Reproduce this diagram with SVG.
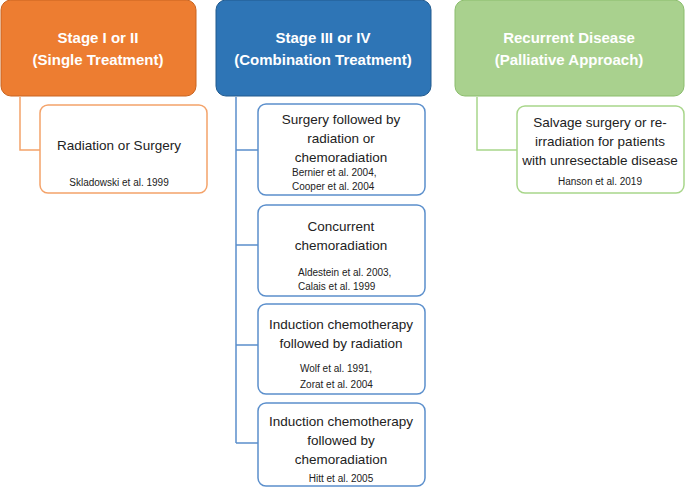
<svg xmlns="http://www.w3.org/2000/svg" width="685" height="494" viewBox="0 0 685 494">
<style>
text{font-family:"Liberation Sans",Arial,sans-serif;text-anchor:middle}
.h{font-size:15px;font-weight:bold;fill:#fff}
.b{font-size:13.5px;fill:#222}
.r{font-size:10px;fill:#222}
.c{fill:#fff;stroke-width:1.5}
</style>
<rect width="685" height="494" fill="#fff"/>
<g id="connectors" fill="none" stroke-width="1.5">
<path d="M20 97V150H40" stroke="#f4a36a"/>
<path d="M236 97V443M236 150H258M236 245H258M236 345H258M236 443H258" stroke="#5b8fcc"/>
<path d="M477 97V150H517" stroke="#a8d68a"/>
</g>
<g id="n1"><rect x="1" y="0" width="195" height="96" rx="10" fill="#ed7d31" stroke="#c96420"/>
<text class="h" x="98" y="43">Stage I or II</text><text class="h" x="98" y="65">(Single Treatment)</text></g>
<g id="n2"><rect x="216" y="0" width="215" height="96" rx="10" fill="#2e75b6" stroke="#215a8e"/>
<text class="h" x="323" y="43">Stage III or IV</text><text class="h" x="323" y="65">(Combination Treatment)</text></g>
<g id="n3"><rect x="455" y="0" width="229" height="96" rx="10" fill="#a9d18e" stroke="#8bbd6c"/>
<text class="h" x="569" y="43">Recurrent Disease</text><text class="h" x="569" y="65">(Palliative Approach)</text></g>
<g id="c1"><rect class="c" x="40" y="105" width="167" height="88" rx="8" stroke="#f4a36a"/>
<text class="b" x="119" y="150">Radiation or Surgery</text><text class="r" x="119" y="186">Skladowski et al. 1999</text></g>
<g id="c2"><rect class="c" x="258" y="104" width="167" height="91" rx="8" stroke="#5b8fcc"/>
<text class="b" x="341" y="124">Surgery followed by</text><text class="b" x="341" y="143">radiation or</text><text class="b" x="341" y="162">chemoradiation</text>
<text class="r" text-anchor="start" style="text-anchor:start" x="292" y="176">Bernier et al. 2004,</text><text class="r" style="text-anchor:start" x="292" y="190">Cooper et al. 2004</text></g>
<g id="c3"><rect class="c" x="258" y="205" width="167" height="91" rx="8" stroke="#5b8fcc"/>
<text class="b" x="341" y="231">Concurrent</text><text class="b" x="341" y="250">chemoradiation</text>
<text class="r" style="text-anchor:start" x="298" y="276">Aldestein et al. 2003,</text><text class="r" style="text-anchor:start" x="298" y="290">Calais et al. 1999</text></g>
<g id="c4"><rect class="c" x="258" y="304" width="167" height="90" rx="8" stroke="#5b8fcc"/>
<text class="b" x="341" y="329">Induction chemotherapy</text><text class="b" x="341" y="348">followed by radiation</text>
<text class="r" style="text-anchor:start" x="300" y="372">Wolf et al. 1991,</text><text class="r" style="text-anchor:start" x="300" y="388">Zorat et al. 2004</text></g>
<g id="c5"><rect class="c" x="258" y="403" width="167" height="83" rx="8" stroke="#5b8fcc"/>
<text class="b" x="341" y="426">Induction chemotherapy</text><text class="b" x="341" y="445">followed by</text><text class="b" x="341" y="464">chemoradiation</text>
<text class="r" x="341" y="482">Hitt et al. 2005</text></g>
<g id="c6"><rect class="c" x="517" y="106" width="167" height="87" rx="8" stroke="#a8d68a"/>
<text class="b" x="600" y="127">Salvage surgery or re-</text><text class="b" x="600" y="146">irradiation for patients</text><text class="b" x="600" y="165">with unresectable disease</text>
<text class="r" x="600" y="185">Hanson et al. 2019</text></g>
</svg>
